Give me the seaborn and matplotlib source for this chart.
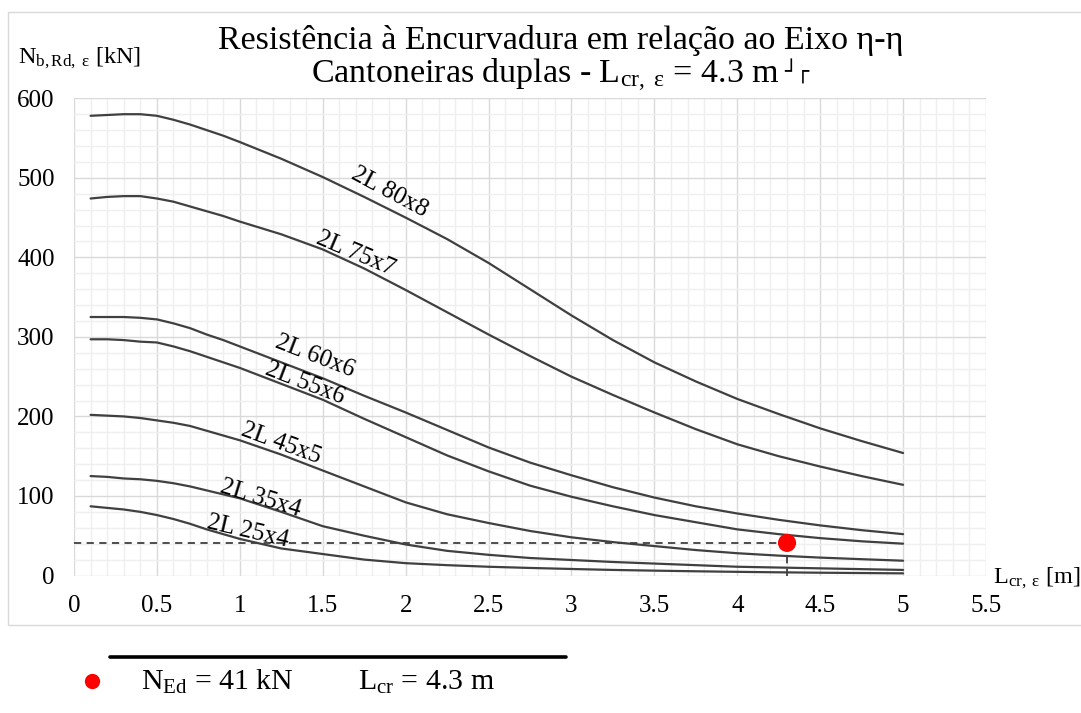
import matplotlib
matplotlib.use("Agg")
import matplotlib.pyplot as plt
from matplotlib.ticker import MultipleLocator, FixedLocator, FuncFormatter
from matplotlib.lines import Line2D
from matplotlib.patches import Rectangle
import pandas as pd
import seaborn as sns

# ---- data -------------------------------------------------------------
lengths = [0.1, 0.2, 0.3, 0.4, 0.5, 0.6, 0.7, 0.8, 0.9, 1.0, 1.25, 1.5, 1.75,
           2.0, 2.25, 2.5, 2.75, 3.0, 3.25, 3.5, 3.75, 4.0, 4.25, 4.5, 4.75, 5.0]

profiles = ["2L 80x8", "2L 75x7", "2L 60x6", "2L 55x6", "2L 45x5", "2L 35x4", "2L 25x4"]

nb_80x8 = [578, 579, 580, 580, 578, 573, 567, 560, 553, 545, 524, 501, 476,
           450, 423, 393, 360, 327, 296, 268, 244, 222, 203, 185, 169, 154]
nb_75x7 = [474, 476, 477, 477, 474, 470, 464, 458, 452, 445, 429, 410, 386,
           359, 331, 303, 276, 250, 227, 205, 184, 165, 150, 137, 125, 114]
nb_60x6 = [325, 325, 325, 324, 322, 317, 311, 303, 296, 288, 268, 248, 226,
           205, 183, 161, 142, 126, 111, 98, 87, 78, 70, 63, 57, 52]
nb_55x6 = [297, 297, 296, 294, 293, 288, 282, 275, 268, 261, 241, 221, 197,
           174, 151, 131, 113, 99, 87, 76, 67, 58, 52, 47, 43, 40]
nb_45x5 = [202, 201, 200, 198, 195, 192, 188, 182, 176, 170, 152, 132, 112,
           92, 77, 66, 56, 48, 42, 37, 32, 28, 25, 22.5, 20.5, 18.6]
nb_35x4 = [125, 124, 122, 121, 119, 116, 112, 107, 102, 97, 80, 62, 50,
           39, 31, 26, 22, 19.5, 17, 15, 13, 11, 10, 9, 8, 7]
nb_25x4 = [87, 85, 83, 80, 76, 71, 65, 58, 52, 46, 34, 27, 20,
           15.5, 13, 11, 9.5, 8.2, 7, 6.1, 5.3, 4.6, 4, 3.5, 3.1, 2.7]

L_cr = 4.3      # m
N_Ed = 41       # kN

x_ticks = [0, 0.5, 1, 1.5, 2, 2.5, 3, 3.5, 4, 4.5, 5, 5.5]
y_ticks = [0, 100, 200, 300, 400, 500, 600]

series = [nb_80x8, nb_75x7, nb_60x6, nb_55x6, nb_45x5, nb_35x4, nb_25x4]
df = pd.DataFrame({
    "L": [x for _ in profiles for x in lengths],
    "N": [v for s in series for v in s],
    "perfil": [p for p in profiles for _ in lengths],
})

# in-line label placement (x, y, angle) for each curve
label_layout = {
    "2L 80x8": (1.90, 482, -28),
    "2L 75x7": (1.70, 404, -23),
    "2L 60x6": (1.455, 275, -21),
    "2L 55x6": (1.395, 242, -21),
    "2L 45x5": (1.25, 166, -20),
    "2L 35x4": (1.125, 97, -17),
    "2L 25x4": (1.05, 55, -13),
}

# ---- style ------------------------------------------------------------
sns.set_theme(style="white")
plt.rcParams["font.family"] = ["Liberation Serif", "DejaVu Sans"]
plt.rcParams["mathtext.fontset"] = "custom"
plt.rcParams["mathtext.rm"] = "Liberation Serif"
plt.rcParams["mathtext.it"] = "Liberation Serif:italic"
plt.rcParams["mathtext.bf"] = "Liberation Serif:bold"

W, H = 1081, 713
fig = plt.figure(figsize=(W / 100, H / 100), dpi=100)
fig.patch.set_facecolor("white")
ax = fig.add_axes([74 / W, 1 - 575.5 / H, 912 / W, 477.2 / H])

line_color = "#404040"
sns.lineplot(data=df, x="L", y="N", hue="perfil", palette={p: line_color for p in profiles},
             linewidth=1.6, legend=False, sort=False, estimator=None, ax=ax, zorder=3)

# design point with its reference lines
ax.plot([0, L_cr], [N_Ed, N_Ed], color=line_color, lw=1.3, ls=(0, (4, 3)), zorder=3)
ax.plot([L_cr, L_cr], [0, N_Ed], color=line_color, lw=1.3, ls=(0, (4, 3)), zorder=3)
sns.scatterplot(x=[L_cr], y=[N_Ed], color="#ff0000", s=170, edgecolor="none", ax=ax, zorder=5)

for name in profiles:
    lx, ly, rot = label_layout[name]
    ax.text(lx, ly, name, fontsize=18, rotation=rot, rotation_mode="anchor",
            ha="center", va="center", color="black", zorder=4)

ax.set_xlim(0, 5.5)
ax.set_ylim(0, 600)
ax.xaxis.set_major_locator(FixedLocator(x_ticks))
ax.yaxis.set_major_locator(FixedLocator(y_ticks))
ax.xaxis.set_minor_locator(MultipleLocator(0.1))
ax.yaxis.set_minor_locator(MultipleLocator(20))
ax.xaxis.set_major_formatter(FuncFormatter(lambda v, _: f"{v:g}"))
ax.yaxis.set_major_formatter(FuncFormatter(lambda v, _: f"{v:g}"))
ax.grid(which="major", color="#d9d9d9", lw=1.0)
ax.grid(which="minor", color="#efefef", lw=1.0)
ax.set_axisbelow(True)
ax.tick_params(which="both", length=0)
ax.tick_params(axis="x", pad=14, labelsize=18, labelcolor="black")
ax.tick_params(axis="y", pad=14, labelsize=18, labelcolor="black")
for sp in ax.spines.values():
    sp.set_visible(False)
ax.set_xlabel("")
ax.set_ylabel("")

# axis captions
fig.text(18 / W, 1 - 58 / H, r"N$_{\mathrm{b,Rd,\ ε}}$ [kN]", fontsize=17.5,
         ha="left", va="center", color="black")
fig.text(993 / W, 1 - 578 / H, r"L$_{\mathrm{cr,\ ε}}$ [m]", fontsize=17.5,
         ha="left", va="center", color="black")

# title
fig.text(561 / W, 1 - 40 / H, "Resistência à Encurvadura em relação ao Eixo η-η",
         fontsize=24.5, ha="center", va="center", color="black")
t2 = fig.text(311 / W, 1 - 75 / H,
              rf"Cantoneiras duplas - L$_{{\mathrm{{cr,\ ε}}}}$ = {L_cr:g} m",
              fontsize=24.5, ha="left", va="center", color="black")
fig.canvas.draw()
bb = t2.get_window_extent()
fig.text((bb.x1 + 5) / W, 1 - 71 / H, "┘┌", family="DejaVu Sans", fontsize=15,
         ha="left", va="center", color="black")

# chart frame
fig.add_artist(Rectangle((8 / W, 1 - 625 / H), 1.0, (625 - 12) / H,
                         transform=fig.transFigure, fill=False,
                         edgecolor="#d9d9d9", lw=1.0))

# key below the chart
fig.add_artist(Line2D([92 / W], [1 - 681 / H], marker="o", markersize=11,
                      color="#ff0000", markeredgewidth=0, transform=fig.transFigure))
fig.add_artist(Line2D([110 / W, 566 / W], [1 - 657 / H, 1 - 657 / H], lw=2.6,
                      color="black", transform=fig.transFigure))
fig.text(141 / W, 1 - 682 / H, rf"N$_{{\mathrm{{Ed}}}}$ = {N_Ed:g} kN", fontsize=21.5,
         ha="left", va="center", color="black")
fig.text(358 / W, 1 - 682 / H, rf"L$_{{\mathrm{{cr}}}}$ = {L_cr:g} m", fontsize=21.5,
         ha="left", va="center", color="black")

fig.savefig("out.png", dpi=100, facecolor="white")
